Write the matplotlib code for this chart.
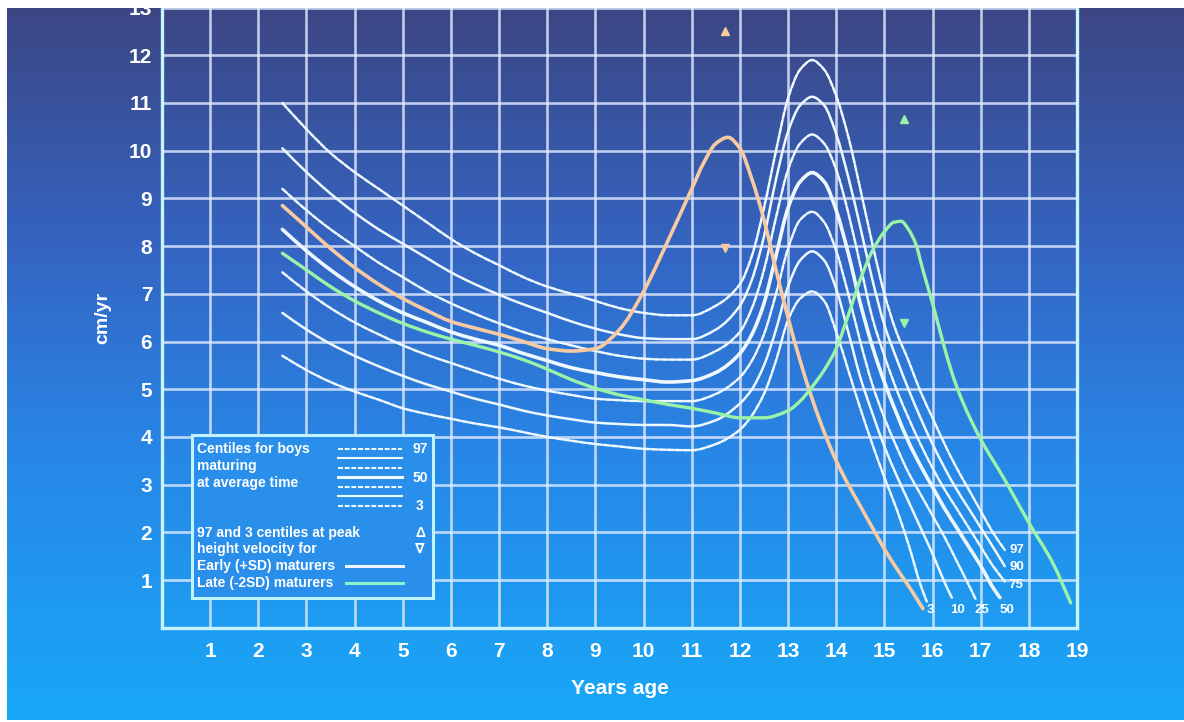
import numpy as np
import matplotlib
matplotlib.use("Agg")
import matplotlib.pyplot as plt
from matplotlib.path import Path
from matplotlib.patches import PathPatch, Rectangle
from matplotlib.colors import LinearSegmentedColormap

plt.rcParams['font.family'] = ['Liberation Sans', 'DejaVu Sans']

# ---------------- data (height velocity, cm/yr) ----------------
ages_main = [2.5, 3, 3.5, 4, 4.5, 5, 5.5, 6, 6.5, 7, 7.5, 8, 8.5, 9, 9.5, 10,
             10.5, 11, 11.5, 12, 12.25, 12.5, 12.75, 13, 13.25, 13.5, 13.75,
             14, 14.25, 14.5, 14.75, 15, 15.25, 15.5, 15.75]

p97 = [11.0, 10.45, 9.95, 9.55, 9.2, 8.85, 8.5, 8.15, 7.85, 7.6, 7.35, 7.15, 7.0, 6.85, 6.7, 6.6,
       6.55, 6.55, 6.75, 7.2, 7.8, 8.8, 10.0, 11.1, 11.7, 11.9, 11.7,
       11.15, 10.3, 9.2, 8.05, 7.0, 6.2, 5.6, 4.95]
p97_tail_ages = [16, 16.25, 16.5, 16.75, 17, 17.25, 17.5]
p97_tail = [4.4, 3.85, 3.35, 2.9, 2.45, 2.0, 1.63]

p90 = [10.05, 9.55, 9.1, 8.7, 8.35, 8.05, 7.75, 7.45, 7.2, 6.98, 6.78, 6.6, 6.42, 6.27, 6.15, 6.07,
       6.05, 6.05, 6.25, 6.75, 7.3, 8.2, 9.4, 10.4, 10.95, 11.13, 10.95,
       10.35, 9.45, 8.4, 7.3, 6.35, 5.65, 5.0, 4.4]
p90_tail_ages = [16, 16.25, 16.5, 16.75, 17, 17.25, 17.5]
p90_tail = [3.85, 3.35, 2.9, 2.5, 2.1, 1.7, 1.29]

p75 = [9.2, 8.75, 8.35, 8.0, 7.65, 7.35, 7.05, 6.8, 6.58, 6.38, 6.2, 6.05, 5.92, 5.8, 5.7, 5.64,
       5.62, 5.62, 5.8, 6.2, 6.7, 7.5, 8.6, 9.6, 10.15, 10.34, 10.15,
       9.6, 8.7, 7.6, 6.5, 5.7, 5.0, 4.4, 3.85]
p75_tail_ages = [16, 16.25, 16.5, 16.75, 17, 17.25, 17.5]
p75_tail = [3.35, 2.9, 2.5, 2.1, 1.7, 1.3, 0.97]

p50 = [8.35, 7.9, 7.5, 7.15, 6.85, 6.6, 6.4, 6.2, 6.05, 5.92, 5.75, 5.6, 5.45, 5.35, 5.26, 5.2,
       5.15, 5.18, 5.35, 5.75, 6.15, 6.8, 7.8, 8.8, 9.35, 9.54, 9.35,
       8.75, 7.85, 6.8, 5.9, 5.15, 4.5, 3.9, 3.4]
p50_tail_ages = [16, 16.25, 16.5, 16.75, 17, 17.25, 17.4]
p50_tail = [2.95, 2.5, 2.1, 1.7, 1.3, 0.85, 0.63]

p25 = [7.45, 7.05, 6.7, 6.4, 6.15, 5.92, 5.72, 5.55, 5.38, 5.22, 5.08, 4.97, 4.88, 4.8, 4.77, 4.75,
       4.75, 4.75, 4.9, 5.25, 5.6, 6.15, 7.0, 7.95, 8.55, 8.72, 8.5,
       7.9, 7.0, 6.0, 5.1, 4.4, 3.8, 3.25, 2.8]
p25_tail_ages = [16, 16.25, 16.5, 16.75, 16.9]
p25_tail = [2.35, 1.9, 1.4, 0.9, 0.59]

p10 = [6.6, 6.25, 5.95, 5.7, 5.48, 5.28, 5.1, 4.95, 4.8, 4.68, 4.55, 4.45, 4.37, 4.3, 4.27, 4.25,
       4.25, 4.22, 4.35, 4.7, 5.0, 5.5, 6.25, 7.15, 7.7, 7.89, 7.7,
       7.1, 6.2, 5.25, 4.5, 3.8, 3.2, 2.65, 2.1]
p10_tail_ages = [16, 16.25, 16.4]
p10_tail = [1.55, 0.95, 0.63]

p3 = [5.7, 5.4, 5.15, 4.95, 4.78, 4.6, 4.48, 4.38, 4.28, 4.2, 4.1, 4.0, 3.92, 3.85, 3.8, 3.75,
      3.73, 3.72, 3.85, 4.15, 4.45, 4.9, 5.6, 6.45, 6.9, 7.05, 6.85,
      6.2, 5.4, 4.6, 3.85, 3.15, 2.5, 1.75, 0.9]
p3_tail_ages = [15.88]
p3_tail = [0.55]

early_ages = [2.5, 3, 3.5, 4, 4.5, 5, 5.5, 6, 6.5, 7, 7.5, 8, 8.5, 9, 9.5, 10, 10.5, 11,
              11.25, 11.5, 11.75, 12, 12.25, 12.5, 12.75, 13, 13.25, 13.5, 13.75, 14,
              14.25, 14.5, 14.75, 15, 15.25, 15.5, 15.8]
early_vel = [8.85, 8.4, 7.95, 7.55, 7.2, 6.9, 6.65, 6.42, 6.28, 6.15, 6.0, 5.85, 5.8, 5.85, 6.25, 7.05, 8.1, 9.2,
             9.75, 10.15, 10.28, 10.05, 9.4, 8.55, 7.5, 6.5, 5.6, 4.8, 4.1, 3.5,
             3.0, 2.55, 2.1, 1.65, 1.25, 0.88, 0.4]

late_ages = [2.5, 3, 3.5, 4, 4.5, 5, 5.5, 6, 6.5, 7, 7.5, 8, 8.5, 9, 9.5, 10, 10.5, 11, 11.5, 12,
             12.5, 13, 13.25, 13.5, 13.75, 14, 14.25, 14.5, 14.75, 15, 15.2, 15.35, 15.5, 15.65,
             15.8, 16.0, 16.2, 16.4, 16.6, 16.8, 17.0, 17.5, 18.0, 18.5, 18.87]
late_vel = [7.85, 7.5, 7.15, 6.85, 6.6, 6.38, 6.2, 6.05, 5.92, 5.78, 5.62, 5.42, 5.2, 5.02, 4.88, 4.78, 4.68, 4.6, 4.5, 4.4,
            4.4, 4.55, 4.75, 5.05, 5.4, 5.85, 6.55, 7.3, 7.9, 8.3, 8.5, 8.52, 8.35, 8.05,
            7.5, 6.8, 6.05, 5.35, 4.8, 4.35, 3.95, 3.1, 2.2, 1.35, 0.52]

# 97th / 3rd centiles at peak height velocity
early_peak_age = 11.7
early_peak_p97 = 12.5
early_peak_p3 = 7.97
late_peak_age = 15.4
late_peak_p97 = 10.67
late_peak_p3 = 6.39

x_ticks = list(range(1, 20))
y_ticks = list(range(1, 14))

# ---------------- figure ----------------
W, H = 1184, 722
fig = plt.figure(figsize=(W / 100, H / 100), dpi=100, facecolor='white')

# gradient background
bg = fig.add_axes([7 / W, 2 / H, (W - 7) / W, 712 / H], zorder=0)
cmap = LinearSegmentedColormap.from_list('bg', [
    (0.0, (60 / 255, 70 / 255, 132 / 255)),
    (0.35, (52 / 255, 102 / 255, 196 / 255)),
    (0.62, (40 / 255, 134 / 255, 230 / 255)),
    (1.0, (24 / 255, 168 / 255, 248 / 255))])
grad = np.linspace(0, 1, 512).reshape(-1, 1)
bg.imshow(grad, aspect='auto', cmap=cmap, extent=[0, 1, 0, 1], origin='upper')
bg.set_axis_off()

X0, XPX = 162, 915 / 19
Y0, YPX = 627.7, 47.7
YTOP = 13.3
ax = fig.add_axes([X0 / W, (H - Y0) / H, 915 / W, YTOP * YPX / H], zorder=1)
ax.set_facecolor('none')
ax.set_xlim(0, 19)
ax.set_ylim(0, YTOP)
ax.set_xticks(x_ticks)
ax.set_yticks(y_ticks)
ax.grid(True, color='#e4ecff', lw=1.9, alpha=0.8, zorder=1)
ax.tick_params(length=0, labelsize=15, labelcolor='white')
ax.tick_params(axis='x', pad=10)
ax.tick_params(axis='y', pad=7)
for lab in ax.get_xticklabels() + ax.get_yticklabels():
    lab.set_fontweight('bold')
for s in ['left', 'bottom', 'right']:
    ax.spines[s].set_color('#c8f4ff')
    ax.spines[s].set_linewidth(2.4)
ax.spines['top'].set_visible(False)


def px(xp, yp):
    return (xp - X0) / XPX, (Y0 - yp) / YPX


def smooth_path(xs, ys):
    xs = np.asarray(xs, float)
    ys = np.asarray(ys, float)
    n = len(xs)
    h = np.diff(xs)
    d = np.diff(ys) / h
    m = np.zeros(n)
    m[0], m[-1] = d[0], d[-1]
    for i in range(1, n - 1):
        if d[i - 1] * d[i] <= 0:
            m[i] = 0.0
        else:
            w1 = 2 * h[i] + h[i - 1]
            w2 = h[i] + 2 * h[i - 1]
            m[i] = (w1 + w2) / (w1 / d[i - 1] + w2 / d[i])
    verts = [(xs[0], ys[0])]
    codes = [Path.MOVETO]
    for i in range(n - 1):
        verts += [(xs[i] + h[i] / 3, ys[i] + m[i] * h[i] / 3),
                  (xs[i + 1] - h[i] / 3, ys[i + 1] - m[i + 1] * h[i] / 3),
                  (xs[i + 1], ys[i + 1])]
        codes += [Path.CURVE4] * 3
    return Path(verts, codes)


def draw(xs, ys, color, lw, ls='-', z=4):
    patch = PathPatch(smooth_path(xs, ys), fill=False, edgecolor=color,
                      lw=lw, linestyle=ls, capstyle='round', zorder=z)
    ax.add_patch(patch)


DASH = (0, (2.4, 0.8))
WHITE = '#eef8ff'
centiles = [
    (p97, p97_tail_ages, p97_tail, DASH, 1.8),
    (p90, p90_tail_ages, p90_tail, '-', 1.8),
    (p75, p75_tail_ages, p75_tail, DASH, 1.8),
    (p50, p50_tail_ages, p50_tail, '-', 2.6),
    (p25, p25_tail_ages, p25_tail, DASH, 1.8),
    (p10, p10_tail_ages, p10_tail, '-', 1.8),
    (p3, p3_tail_ages, p3_tail, DASH, 1.8),
]
for vals, tx, tv, ls, lw in centiles:
    draw(ages_main + tx, vals + tv, WHITE, lw, ls)

ORANGE = '#f8caa2'
GREEN = '#9af3a6'
draw(early_ages, early_vel, ORANGE, 2.6, z=5)
draw(late_ages, late_vel, GREEN, 2.4, z=5)

ax.plot([early_peak_age], [early_peak_p97], marker='^', ms=5.5, color=ORANGE, ls='none', zorder=6)
ax.plot([early_peak_age], [early_peak_p3], marker='v', ms=5.5, color=ORANGE, ls='none', zorder=6)
ax.plot([late_peak_age], [late_peak_p97], marker='^', ms=5.5, color=GREEN, ls='none', zorder=6)
ax.plot([late_peak_age], [late_peak_p3], marker='v', ms=5.5, color=GREEN, ls='none', zorder=6)

# curve end labels
lab_kw = dict(color='white', fontsize=9.5, fontweight='bold', ha='center', va='center', zorder=7)
for t, (xp, yp) in [('97', (1017, 550)), ('90', (1017, 567)), ('75', (1016, 585)),
                    ('3', (930, 610)), ('10', (957, 610)), ('25', (982, 610)), ('50', (1007, 610))]:
    ax.text(*px(xp, yp), t, **lab_kw)

# legend box
lx0, ly0 = px(192, 598)
lx1, ly1 = px(433, 435)
ax.add_patch(Rectangle((lx0, ly0), lx1 - lx0, ly1 - ly0, facecolor='#2a8fea',
                       edgecolor='#bff4ff', lw=2.2, zorder=8))
txt_kw = dict(color='white', fontsize=10, fontweight='bold', ha='left', va='center', zorder=9)
for t, yp in [('Centiles for boys', 449), ('maturing', 466), ('at average time', 483),
              ('97 and 3 centiles at peak', 533), ('height velocity for', 549),
              ('Early (+SD) maturers', 566), ('Late (-2SD) maturers', 583)]:
    ax.text(*px(197, yp), t, **txt_kw)
styles = [DASH, '-', DASH, '-', DASH, '-', DASH]
widths = [1.5, 1.5, 1.5, 2.2, 1.5, 1.5, 1.5]
for yp, ls, lw in zip([449, 458, 468, 477, 487, 496, 506], styles, widths):
    (a, b), (c, _) = px(338, yp), px(402, yp)
    ax.plot([a, c], [b, b], color=WHITE, lw=lw, ls=ls, zorder=9)
for t, yp in [('97', 449), ('50', 478), ('3', 506), ('Δ', 533), ('∇', 549)]:
    ax.text(*px(420, yp), t, color='white', fontsize=10, fontweight='bold',
            ha='center', va='center', zorder=9)
for yp, col in [(566, '#eef4ff'), (583, '#8ef2c8')]:
    (a, b), (c, _) = px(346, yp), px(403, yp)
    ax.plot([a, c], [b, b], color=col, lw=2.2, zorder=9)

# axis titles
fig.text(619.5 / W, 1 - 688 / H, 'Years age', color='white', fontsize=15,
         fontweight='bold', ha='center', va='center')
fig.text(103 / W, 1 - 318 / H, 'cm/yr', color='white', fontsize=14,
         fontweight='bold', ha='center', va='center', rotation=90)

# white margins of the picture
fig.add_artist(Rectangle((0, 1 - 8 / H), 1, 8 / H, transform=fig.transFigure,
                         facecolor='white', edgecolor='none', zorder=100))

fig.savefig('out.png', dpi=100, facecolor='white')
